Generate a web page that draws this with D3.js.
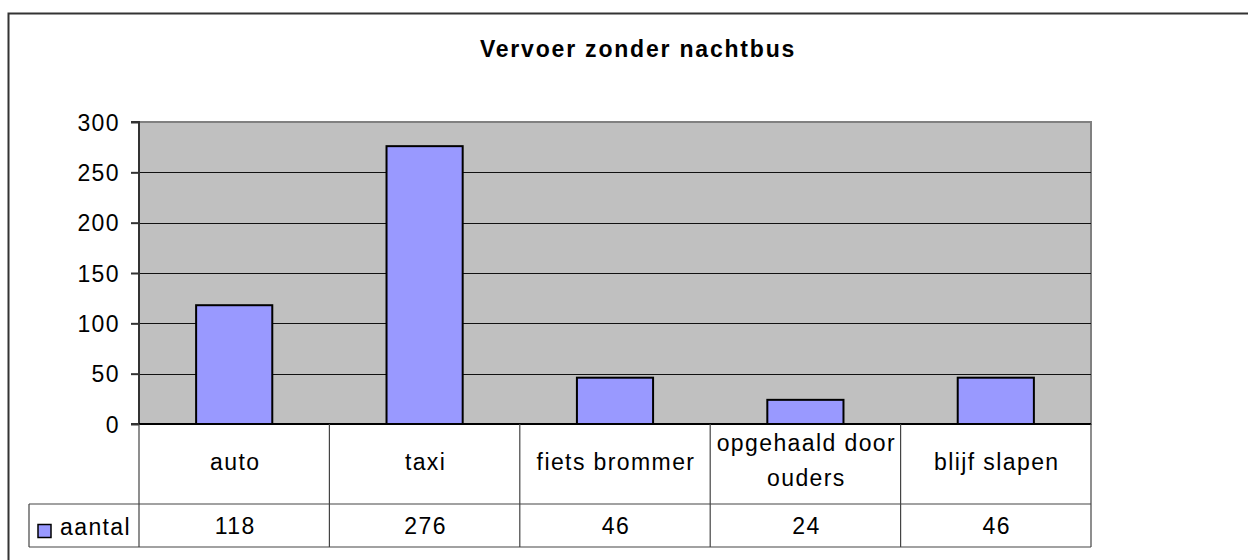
<!DOCTYPE html>
<html>
<head>
<meta charset="utf-8">
<script src="https://cdn.jsdelivr.net/npm/d3@7"></script>
<style>
  body { margin: 0; background: #fff; }
  svg { display: block; font-family: "Liberation Sans", Arial, sans-serif; }
  svg text { letter-spacing: 1.4px; }
</style>
</head>
<body>
<div id="chart"></div>
<script>
var categories = ['auto', 'taxi', 'fiets brommer', 'opgehaald door ouders', 'blijf slapen'];
var categoryLines = [['auto'], ['taxi'], ['fiets brommer'], ['opgehaald door', 'ouders'], ['blijf slapen']];
var values = [118, 276, 46, 24, 46];
var seriesName = 'aantal';
var yTicks = [0, 50, 100, 150, 200, 250, 300];

var width = 1248, height = 560;
var plot = {left: 139, right: 1091, top: 122, bottom: 424};
var rowCat = 504, rowVal = 547, legendLeft = 29;
var fontSize = '23px';

var svg = d3.select('#chart').append('svg')
    .attr('width', width)
    .attr('height', height);

// outer chart border
svg.append('rect')
    .attr('x', 8.5).attr('y', 13.5)
    .attr('width', 1300).attr('height', 600)
    .attr('fill', '#fff')
    .attr('stroke', '#333')
    .attr('stroke-width', 2);

svg.append('text')
    .attr('x', 638).attr('y', 57)
    .attr('text-anchor', 'middle')
    .style('font-size', '23px')
    .style('font-weight', 'bold')
    .style('letter-spacing', '1.8px')
    .text('Vervoer zonder nachtbus');

var xScale = d3.scaleBand()
    .domain(categories)
    .range([plot.left, plot.right])
    .paddingInner(0.6)
    .paddingOuter(0.3);

var yScale = d3.scaleLinear()
    .domain([0, 300])
    .range([plot.bottom, plot.top]);

// plot background
svg.append('rect')
    .attr('x', plot.left).attr('y', plot.top)
    .attr('width', plot.right - plot.left)
    .attr('height', plot.bottom - plot.top)
    .attr('fill', '#c0c0c0')
    .attr('stroke', '#808080')
    .attr('stroke-width', 2);

// gridlines
svg.append('g')
    .selectAll('line')
    .data(yTicks.filter(function (d) { return d > 0 && d < 300; }))
    .enter()
    .append('line')
    .attr('x1', plot.left).attr('x2', plot.right)
    .attr('y1', function (d) { return Math.round(yScale(d)) + 0.5; })
    .attr('y2', function (d) { return Math.round(yScale(d)) + 0.5; })
    .attr('stroke', '#111')
    .attr('stroke-width', 1);

// bars
svg.append('g')
    .selectAll('rect')
    .data(values)
    .enter()
    .append('rect')
    .attr('x', function (d, i) { return xScale(categories[i]); })
    .attr('y', function (d) { return yScale(d); })
    .attr('width', xScale.bandwidth())
    .attr('height', function (d) { return plot.bottom - yScale(d); })
    .attr('fill', '#9999ff')
    .attr('stroke', '#000')
    .attr('stroke-width', 2);

// y axis
var yAxis = d3.axisLeft(yScale)
    .tickValues(yTicks)
    .tickSize(8)
    .tickPadding(11);

var yg = svg.append('g')
    .attr('transform', 'translate(' + plot.left + ',0)')
    .call(yAxis);
yg.select('.domain').attr('stroke', '#333').attr('stroke-width', 2).attr('d', 'M-8,' + plot.top + 'H0V' + plot.bottom + 'H-8');
yg.selectAll('.tick line').attr('stroke', '#333').attr('stroke-width', 2);
yg.selectAll('.tick text')
    .attr('fill', '#000')
    .attr('dy', '0.35em')
    .style('font-size', fontSize)
    .style('font-family', '"Liberation Sans", Arial, sans-serif');

// x axis line
svg.append('line')
    .attr('x1', plot.left).attr('x2', plot.right)
    .attr('y1', plot.bottom).attr('y2', plot.bottom)
    .attr('stroke', '#000')
    .attr('stroke-width', 2);

// data table
var colEdges = categories.map(function (c, i) { return plot.left + i * (plot.right - plot.left) / categories.length; });
colEdges.push(plot.right);

var table = svg.append('g').attr('stroke', '#444').attr('stroke-width', 1.2).attr('fill', 'none');

colEdges.forEach(function (x) {
    table.append('line')
        .attr('x1', x).attr('x2', x)
        .attr('y1', plot.bottom).attr('y2', rowVal);
});
table.append('line')
    .attr('x1', legendLeft).attr('x2', plot.right)
    .attr('y1', rowCat).attr('y2', rowCat);
table.append('line')
    .attr('x1', legendLeft).attr('x2', plot.right)
    .attr('y1', rowVal).attr('y2', rowVal);
table.append('line')
    .attr('x1', legendLeft).attr('x2', legendLeft)
    .attr('y1', rowCat).attr('y2', rowVal);

// category labels
var catG = svg.append('g');
categoryLines.forEach(function (lines, i) {
    var cx = (colEdges[i] + colEdges[i + 1]) / 2 + 1;
    var midY = (plot.bottom + rowCat) / 2;
    lines.forEach(function (t, j) {
        catG.append('text')
            .attr('x', cx)
            .attr('y', midY + 6 + (j - (lines.length - 1) / 2) * 35 - (lines.length - 1) * 2)
            .attr('text-anchor', 'middle')
            .style('font-size', fontSize)
            .text(t);
    });
});

// values row
svg.append('g')
    .selectAll('text')
    .data(values)
    .enter()
    .append('text')
    .attr('x', function (d, i) { return (colEdges[i] + colEdges[i + 1]) / 2 + 1; })
    .attr('y', (rowCat + rowVal) / 2 + 8)
    .attr('text-anchor', 'middle')
    .style('font-size', fontSize)
    .text(function (d) { return d; });

// legend key
svg.append('rect')
    .attr('x', 38).attr('y', 524.5)
    .attr('width', 13).attr('height', 13)
    .attr('fill', '#9999ff')
    .attr('stroke', '#000')
    .attr('stroke-width', 1.5);
svg.append('text')
    .attr('x', 60).attr('y', 535)
    .style('font-size', fontSize)
    .text(seriesName);
</script>
</body>
</html>
